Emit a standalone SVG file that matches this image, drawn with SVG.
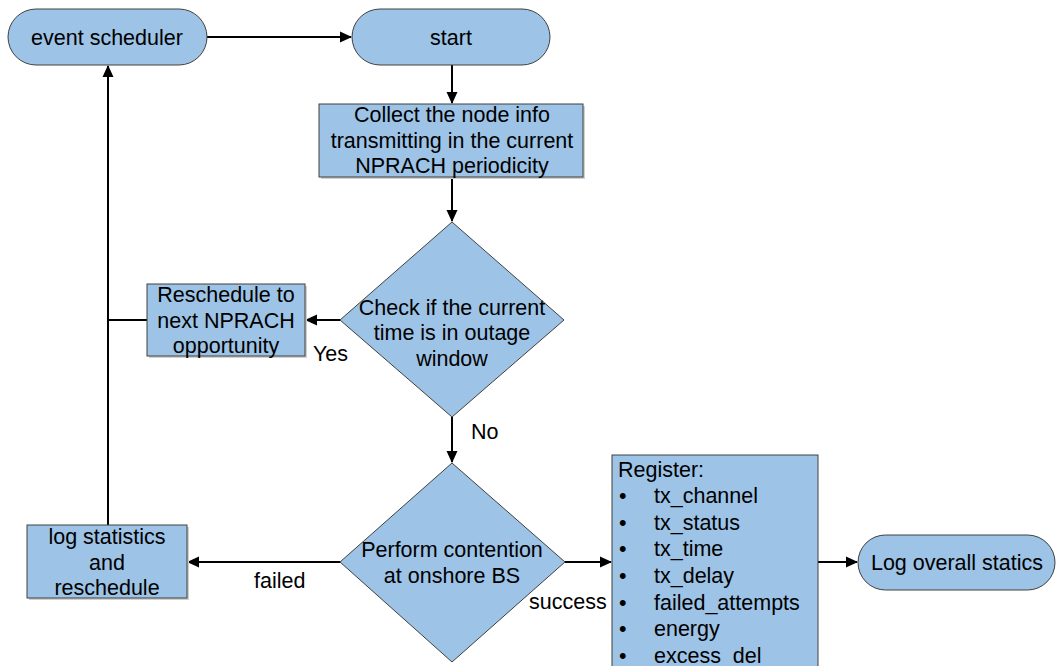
<svg xmlns="http://www.w3.org/2000/svg" width="1059" height="666" viewBox="0 0 1059 666">
<style>
.shape{fill:#9DC3E6;stroke:#404040;stroke-width:1}
.shadow{fill:#d0d0d0;stroke:none}
.t{font-family:"Liberation Sans",Arial,sans-serif;font-size:21.5px;fill:#000}
.c{text-anchor:middle}
.line{fill:none;stroke:#000;stroke-width:2}
</style>
<defs>
<marker id="arr" markerWidth="12" markerHeight="12" refX="11" refY="5.5" orient="auto" markerUnits="userSpaceOnUse" viewBox="0 0 12 11">
<path d="M0,0 L12,5.5 L0,11 Z" fill="#000"/>
</marker>
</defs>
<rect width="1059" height="666" fill="#fff"/>
<g id="connectors">
<line class="line" x1="207" y1="37" x2="351" y2="37" marker-end="url(#arr)"/>
<line class="line" x1="452" y1="65" x2="452" y2="103" marker-end="url(#arr)"/>
<line class="line" x1="452" y1="177" x2="452" y2="221" marker-end="url(#arr)"/>
<line class="line" x1="340" y1="320" x2="306" y2="320" marker-end="url(#arr)"/>
<polyline class="line" points="147,320 108,320"/>
<line class="line" x1="108" y1="525" x2="108" y2="66" marker-end="url(#arr)"/>
<line class="line" x1="452" y1="417" x2="452" y2="462" marker-end="url(#arr)"/>
<line class="line" x1="340" y1="562" x2="188" y2="562" marker-end="url(#arr)"/>
<line class="line" x1="565" y1="562" x2="611" y2="562" marker-end="url(#arr)"/>
<line class="line" x1="818" y1="562" x2="857" y2="562" marker-end="url(#arr)"/>
<text class="t" x="313" y="361">Yes</text>
<text class="t" x="471" y="439">No</text>
<text class="t" x="254" y="588">failed</text>
<text class="t" x="529" y="609">success</text>
</g>
<g id="event-scheduler">
<rect class="shape" x="8" y="9" width="199" height="56" rx="28"/>
<text class="t c" x="107" y="45">event scheduler</text>
</g>
<g id="start">
<rect class="shape" x="352" y="9" width="198" height="56" rx="28"/>
<text class="t c" x="451" y="45">start</text>
</g>
<g id="collect">
<rect class="shadow" x="321" y="106" width="264" height="73"/>
<rect class="shape" x="319" y="104" width="264" height="73"/>
<text class="t c" x="452" y="122">Collect the node info</text>
<text class="t c" x="452" y="148">transmitting in the current</text>
<text class="t c" x="452" y="173">NPRACH periodicity</text>
</g>
<g id="check-outage">
<polygon class="shape" points="452,222 564,320 452,417 340,320"/>
<text class="t c" x="452" y="315">Check if the current</text>
<text class="t c" x="452" y="340">time is in outage</text>
<text class="t c" x="452" y="366">window</text>
</g>
<g id="reschedule">
<rect class="shadow" x="149" y="286" width="158" height="72"/>
<rect class="shape" x="147" y="284" width="158" height="72"/>
<text class="t c" x="226" y="302">Reschedule to</text>
<text class="t c" x="226" y="328">next NPRACH</text>
<text class="t c" x="226" y="353">opportunity</text>
</g>
<g id="contention">
<polygon class="shape" points="452,463 565,562 452,662 340,562"/>
<text class="t c" x="452" y="557">Perform contention</text>
<text class="t c" x="452" y="583">at onshore BS</text>
</g>
<g id="log-statistics">
<rect class="shadow" x="29" y="527" width="160" height="73"/>
<rect class="shape" x="27" y="525" width="160" height="73"/>
<text class="t c" x="107" y="544">log statistics</text>
<text class="t c" x="107" y="570">and</text>
<text class="t c" x="107" y="595">reschedule</text>
</g>
<g id="register">
<rect class="shape" x="612" y="455" width="206" height="230"/>
<text class="t" x="618" y="477">Register:</text>
<g class="t">
<text x="619" y="503">•</text><text x="654" y="503">tx_channel</text>
<text x="619" y="530">•</text><text x="654" y="530">tx_status</text>
<text x="619" y="556">•</text><text x="654" y="556">tx_time</text>
<text x="619" y="583">•</text><text x="654" y="583">tx_delay</text>
<text x="619" y="610">•</text><text x="654" y="610">failed_attempts</text>
<text x="619" y="636">•</text><text x="654" y="636">energy</text>
<text x="619" y="663">•</text><text x="654" y="663">excess_del</text>
</g>
</g>
<g id="log-overall">
<rect class="shape" x="858" y="535" width="197" height="55" rx="27.5"/>
<text class="t c" x="957" y="570">Log overall statics</text>
</g>
</svg>
